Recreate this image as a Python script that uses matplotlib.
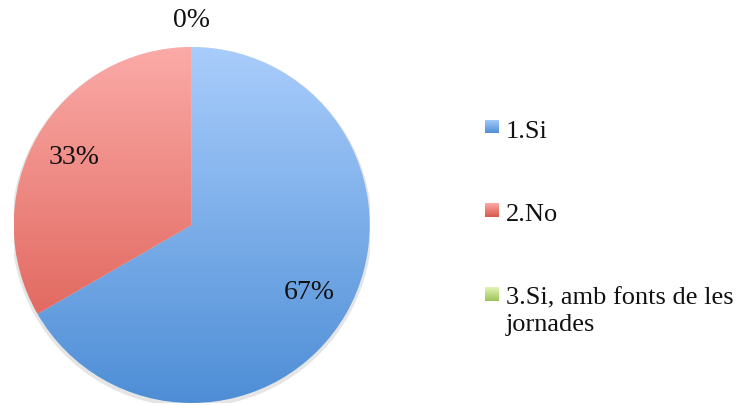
import matplotlib
matplotlib.use('Agg')
import numpy as np
import matplotlib.pyplot as plt
from matplotlib.colors import LinearSegmentedColormap

# Data
categories = ['1.Si', '2.No', '3.Si, amb fonts de les\njornades']
values = [2, 1, 0]

# gradient colours (top, bottom) per slice
grad_colors = [('#A9CDFC', '#4E8ED6'),
               ('#FBAAA7', '#D9554A'),
               ('#E3F5B8', '#9CC456')]

W, H = 746, 405
plt.rcParams['font.family'] = ['Liberation Serif', 'DejaVu Serif']
fig = plt.figure(figsize=(W / 100, H / 100), dpi=100)

cx, cy, r = 191.7, 405 - 225, 178
ax = fig.add_axes([(cx - r) / W, (cy - r) / H, 2 * r / W, 2 * r / H])

wedges, _ = ax.pie(values, startangle=90, counterclock=False, radius=1,
                   wedgeprops=dict(linewidth=0))
ax.set_xlim(-1, 1)
ax.set_ylim(-1, 1)
ax.set_aspect('equal')
ax.axis('off')

# faint shadow
shadow = plt.Circle((0.0, -0.012), 1.012, color='#000000', alpha=0.10, lw=0, zorder=0)
ax.add_patch(shadow)

grad = np.linspace(0, 1, 256).reshape(-1, 1)
for w, (c_top, c_bot) in zip(wedges, grad_colors):
    cmap = LinearSegmentedColormap.from_list('g', [c_top, c_bot])
    w.set_facecolor('none')
    im = ax.imshow(grad, cmap=cmap, extent=[-1, 1, -1, 1], origin='upper',
                   aspect='auto', zorder=1)
    im.set_clip_path(w)

# percentage labels
total = sum(values)
angle = 90.0
for v in values:
    pct = v / total * 100
    sweep = v / total * 360
    mid = np.deg2rad(angle - sweep / 2)
    d = 0.76 if v > 0 else 1.15
    ax.text(d * np.cos(mid), d * np.sin(mid), f'{pct:.0f}%',
            ha='center', va='center', fontsize=20, color='#111111')
    angle -= sweep

# legend
lx = 485 / W
sq_y = [126.5, 210, 294]
base_y = [138, 221, 304]
for (c_top, c_bot), lab, y, b in zip(grad_colors, categories, sq_y, base_y):
    sq = fig.add_axes([lx, (H - y - 7) / H, 14 / W, 14 / H])
    cmap = LinearSegmentedColormap.from_list('g', [c_top, c_bot])
    sq.imshow(grad, cmap=cmap, aspect='auto')
    sq.axis('off')
    for k, line in enumerate(lab.split('\n')):
        fig.text(506 / W, (H - b - 27 * k) / H, line, ha='left', va='baseline',
                 fontsize=19, color='#111111')

fig.savefig('out.png', dpi=100)
